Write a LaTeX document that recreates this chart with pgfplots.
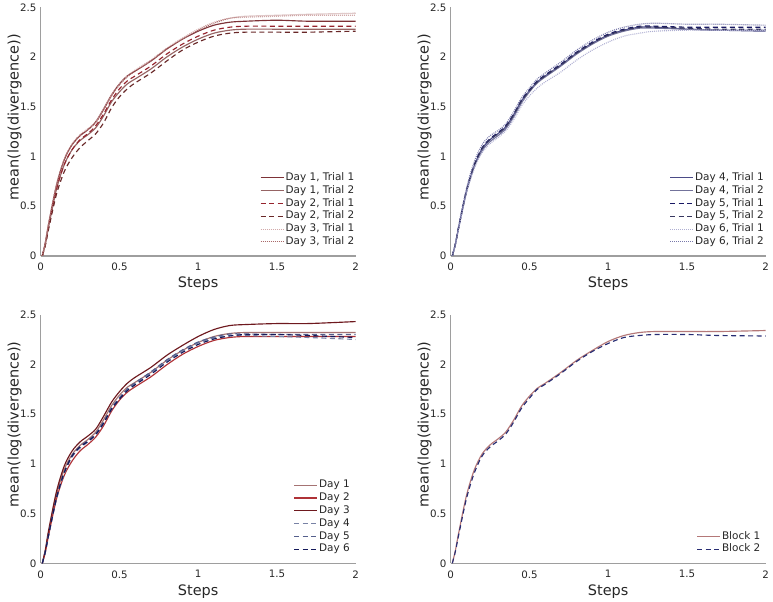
\documentclass[border=0pt]{standalone}
\usepackage{fontspec}
\setmainfont{DejaVu Sans}
\usepackage{pgfplots}
\usepackage{pgfplotstable}
\pgfplotsset{compat=1.18}

\definecolor{axgray}{RGB}{158,158,158}
\definecolor{txtgray}{RGB}{38,38,38}
% top-left
\definecolor{tla}{RGB}{125,50,55}
\definecolor{tlb}{RGB}{150,100,100}
\definecolor{tlc}{RGB}{150,35,45}
\definecolor{tld}{RGB}{105,40,40}
\definecolor{tle}{RGB}{210,170,170}
\definecolor{tlf}{RGB}{170,105,105}
% top-right
\definecolor{tra}{RGB}{75,75,135}
\definecolor{trb}{RGB}{115,115,155}
\definecolor{trc}{RGB}{25,25,100}
\definecolor{trd}{RGB}{55,55,95}
\definecolor{tre}{RGB}{175,175,210}
\definecolor{trf}{RGB}{120,120,170}
% bottom-left
\definecolor{bla}{RGB}{165,115,115}
\definecolor{blb}{RGB}{175,50,55}
\definecolor{blc}{RGB}{110,25,30}
\definecolor{bld}{RGB}{120,130,165}
\definecolor{ble}{RGB}{85,95,140}
\definecolor{blf}{RGB}{20,25,90}
% bottom-right
\definecolor{bra}{RGB}{180,120,120}
\definecolor{brb}{RGB}{40,45,115}

\pgfplotstableread{
x      a     b     c     d     e     f
0.01   0     0     0     0     0     0
0.03   0.14  0.12  0.12  0.11  0.14  0.13
0.05   0.32  0.29  0.29  0.27  0.33  0.32
0.10   0.71  0.67  0.67  0.62  0.72  0.71
0.15   0.97  0.92  0.92  0.85  0.98  0.97
0.20   1.12  1.07  1.07  0.99  1.13  1.12
0.25   1.21  1.16  1.17  1.09  1.22  1.21
0.30   1.27  1.22  1.23  1.16  1.28  1.27
0.35   1.35  1.29  1.31  1.23  1.35  1.34
0.40   1.48  1.41  1.43  1.34  1.48  1.47
0.45   1.62  1.55  1.57  1.49  1.62  1.61
0.50   1.73  1.65  1.68  1.60  1.73  1.72
0.55   1.81  1.73  1.76  1.68  1.81  1.80
0.60   1.86  1.78  1.81  1.74  1.87  1.86
0.70   1.96  1.88  1.91  1.84  1.97  1.96
0.80   2.08  2.00  2.03  1.96  2.09  2.08
0.90   2.18  2.10  2.13  2.07  2.19  2.18
1.00   2.26  2.18  2.21  2.15  2.28  2.27
1.10   2.32  2.24  2.27  2.21  2.35  2.34
1.20   2.35  2.27  2.30  2.24  2.39  2.39
1.30   2.36  2.28  2.31  2.25  2.40  2.41
1.50   2.37  2.28  2.31  2.25  2.41  2.42
1.70   2.36  2.28  2.31  2.25  2.42  2.43
2.00   2.36  2.28  2.31  2.26  2.42  2.44
}\tl

\pgfplotstableread{
x      a     b     c     d     e     f
0.01   0     0     0     0     0     0
0.03   0.12  0.12  0.12  0.12  0.11  0.13
0.05   0.28  0.28  0.29  0.28  0.27  0.30
0.10   0.65  0.64  0.66  0.65  0.63  0.68
0.15   0.91  0.90  0.92  0.91  0.88  0.95
0.20   1.08  1.06  1.09  1.08  1.04  1.12
0.25   1.17  1.15  1.18  1.17  1.13  1.21
0.30   1.23  1.21  1.24  1.23  1.19  1.26
0.35   1.30  1.28  1.31  1.30  1.26  1.33
0.40   1.42  1.40  1.43  1.42  1.37  1.45
0.45   1.56  1.54  1.57  1.56  1.51  1.59
0.50   1.66  1.65  1.67  1.66  1.61  1.69
0.55   1.75  1.74  1.76  1.75  1.69  1.78
0.60   1.81  1.80  1.82  1.81  1.75  1.84
0.70   1.92  1.91  1.93  1.92  1.85  1.95
0.80   2.04  2.03  2.05  2.04  1.97  2.07
0.90   2.14  2.13  2.15  2.14  2.07  2.17
1.00   2.22  2.21  2.23  2.22  2.15  2.25
1.10   2.27  2.26  2.28  2.27  2.21  2.30
1.20   2.30  2.29  2.31  2.30  2.24  2.33
1.30   2.30  2.29  2.31  2.30  2.26  2.34
1.50   2.28  2.28  2.30  2.29  2.27  2.33
1.70   2.27  2.27  2.30  2.28  2.27  2.33
2.00   2.26  2.27  2.30  2.28  2.27  2.32
}\tr

\pgfplotstableread{
x      a     b     c     d     e     f
0.01   0     0     0     0     0     0
0.03   0.13  0.115 0.14  0.12  0.12  0.12
0.05   0.305 0.28  0.33  0.28  0.285 0.285
0.10   0.69  0.645 0.72  0.645 0.655 0.655
0.15   0.945 0.885 0.98  0.905 0.915 0.915
0.20   1.095 1.03  1.13  1.07  1.085 1.08
0.25   1.185 1.13  1.22  1.16  1.175 1.17
0.30   1.245 1.195 1.28  1.22  1.235 1.225
0.35   1.32  1.27  1.35  1.29  1.305 1.295
0.40   1.445 1.385 1.48  1.41  1.425 1.41
0.45   1.585 1.53  1.62  1.55  1.565 1.55
0.50   1.69  1.64  1.725 1.655 1.665 1.65
0.55   1.77  1.72  1.81  1.745 1.755 1.735
0.60   1.82  1.775 1.87  1.805 1.815 1.795
0.70   1.92  1.875 1.97  1.915 1.925 1.90
0.80   2.04  1.995 2.09  2.035 2.045 2.02
0.90   2.14  2.10  2.19  2.135 2.145 2.12
1.00   2.22  2.18  2.28  2.215 2.225 2.20
1.10   2.28  2.24  2.35  2.265 2.275 2.255
1.20   2.31  2.27  2.39  2.29  2.305 2.285
1.30   2.32  2.28  2.40  2.29  2.305 2.30
1.50   2.32  2.28  2.41  2.28  2.30  2.30
1.70   2.32  2.28  2.41  2.27  2.30  2.29
2.00   2.32  2.28  2.43  2.25  2.30  2.27
}\bl

\pgfplotstableread{
x     a     b
0.01  0     0
0.03  0.13  0.12
0.05  0.30  0.28
0.10  0.68  0.65
0.15  0.94  0.91
0.20  1.10  1.08
0.25  1.19  1.17
0.30  1.25  1.23
0.35  1.32  1.30
0.40  1.44  1.42
0.45  1.58  1.56
0.50  1.68  1.66
0.55  1.76  1.75
0.60  1.81  1.80
0.70  1.92  1.91
0.80  2.04  2.03
0.90  2.14  2.13
1.00  2.23  2.21
1.10  2.29  2.27
1.20  2.32  2.29
1.30  2.33  2.30
1.50  2.33  2.30
1.70  2.33  2.29
2.00  2.34  2.285
}\br

\pgfplotsset{
  panel/.style={
    scale only axis, width=315bp, height=248.7bp,
    xmin=0, xmax=2, ymin=0, ymax=2.5,
    axis lines*=left,
    axis line style={axgray, line width=1.5bp, -},
    major tick length=0pt,
    xtick={0,0.5,1,1.5,2}, xticklabels={0,0.5,1,1.5,2},
    ytick={0,0.5,1,1.5,2,2.5}, yticklabels={0,0.5,1,1.5,2,2.5},
    tick label style={font=\fontsize{10.3}{12}\selectfont, text=txtgray},
    xticklabel style={inner sep=0pt, anchor=north, yshift=-7bp},
    yticklabel style={inner sep=0pt, anchor=east, xshift=-4bp},
    xlabel={Steps}, ylabel={mean(log(divergence))},
    label style={font=\fontsize{14.5}{16}\selectfont, text=txtgray},
    xlabel style={at={([yshift=-28bp]axis description cs:0.5,0)}, anchor=center},
    ylabel style={at={([xshift=-26bp]axis description cs:0,0.558)}, anchor=center},
    legend cell align=left,
    legend style={draw=none, fill=none, inner sep=0pt, outer sep=0pt,
      font=\fontsize{10.5}{12}\selectfont, text=txtgray,
      anchor=south east, row sep=0pt, column sep=0pt,
      nodes={text height=7.6bp, text depth=2.4bp, inner sep=1.4bp}},
    legend image code/.code={\draw[##1] (0bp,0bp) -- (23bp,0bp);},
    every axis plot/.append style={line width=1.15bp, no markers, smooth},
  },
  dsh/.style={dash pattern=on 5bp off 3.5bp},
  dtt/.style={dash pattern=on 0.9bp off 1.1bp},
}

\begin{document}
\begin{tikzpicture}
\useasboundingbox (-40.7bp,-346bp) rectangle (732.3bp,256bp);

% top-left
\begin{axis}[panel, at={(0bp,0bp)}, anchor=south west,
  legend style={at={([xshift=0bp,yshift=7.7bp]axis description cs:1,0)}}]
\addplot[tla, solid] table[x=x,y=a]{\tl};
\addplot[tlb, solid] table[x=x,y=b]{\tl};
\addplot[tlc, dsh] table[x=x,y=c]{\tl};
\addplot[tld, dsh] table[x=x,y=d]{\tl};
\addplot[tle, dtt] table[x=x,y=e]{\tl};
\addplot[tlf, dtt] table[x=x,y=f]{\tl};
\legend{{Day 1, Trial 1},{Day 1, Trial 2},{Day 2, Trial 1},{Day 2, Trial 2},{Day 3, Trial 1},{Day 3, Trial 2}}
\end{axis}

% top-right
\begin{axis}[panel, at={(410bp,0bp)}, anchor=south west,
  legend style={at={([xshift=-0.5bp,yshift=7.7bp]axis description cs:1,0)}}]
\addplot[tra, solid] table[x=x,y=a]{\tr};
\addplot[trb, solid] table[x=x,y=b]{\tr};
\addplot[trc, dsh] table[x=x,y=c]{\tr};
\addplot[trd, dsh] table[x=x,y=d]{\tr};
\addplot[tre, dtt] table[x=x,y=e]{\tr};
\addplot[trf, dtt] table[x=x,y=f]{\tr};
\legend{{Day 4, Trial 1},{Day 4, Trial 2},{Day 5, Trial 1},{Day 5, Trial 2},{Day 6, Trial 1},{Day 6, Trial 2}}
\end{axis}

% bottom-left
\begin{axis}[panel, at={(0bp,-307.3bp)}, anchor=south west,
  legend style={at={([xshift=-4.5bp,yshift=7.7bp]axis description cs:1,0)}}]
\addplot[bla, solid] table[x=x,y=a]{\bl};
\addplot[blb, solid] table[x=x,y=b]{\bl};
\addplot[blc, solid] table[x=x,y=c]{\bl};
\addplot[bld, dsh] table[x=x,y=d]{\bl};
\addplot[ble, dsh] table[x=x,y=e]{\bl};
\addplot[blf, dsh] table[x=x,y=f]{\bl};
\legend{Day 1,Day 2,Day 3,Day 4,Day 5,Day 6}
\end{axis}

% bottom-right
\begin{axis}[panel, at={(410bp,-307.3bp)}, anchor=south west,
  legend style={at={([xshift=-4bp,yshift=7.7bp]axis description cs:1,0)}}]
\addplot[bra, solid] table[x=x,y=a]{\br};
\addplot[brb, dsh] table[x=x,y=b]{\br};
\legend{Block 1,Block 2}
\end{axis}
\end{tikzpicture}
\end{document}
